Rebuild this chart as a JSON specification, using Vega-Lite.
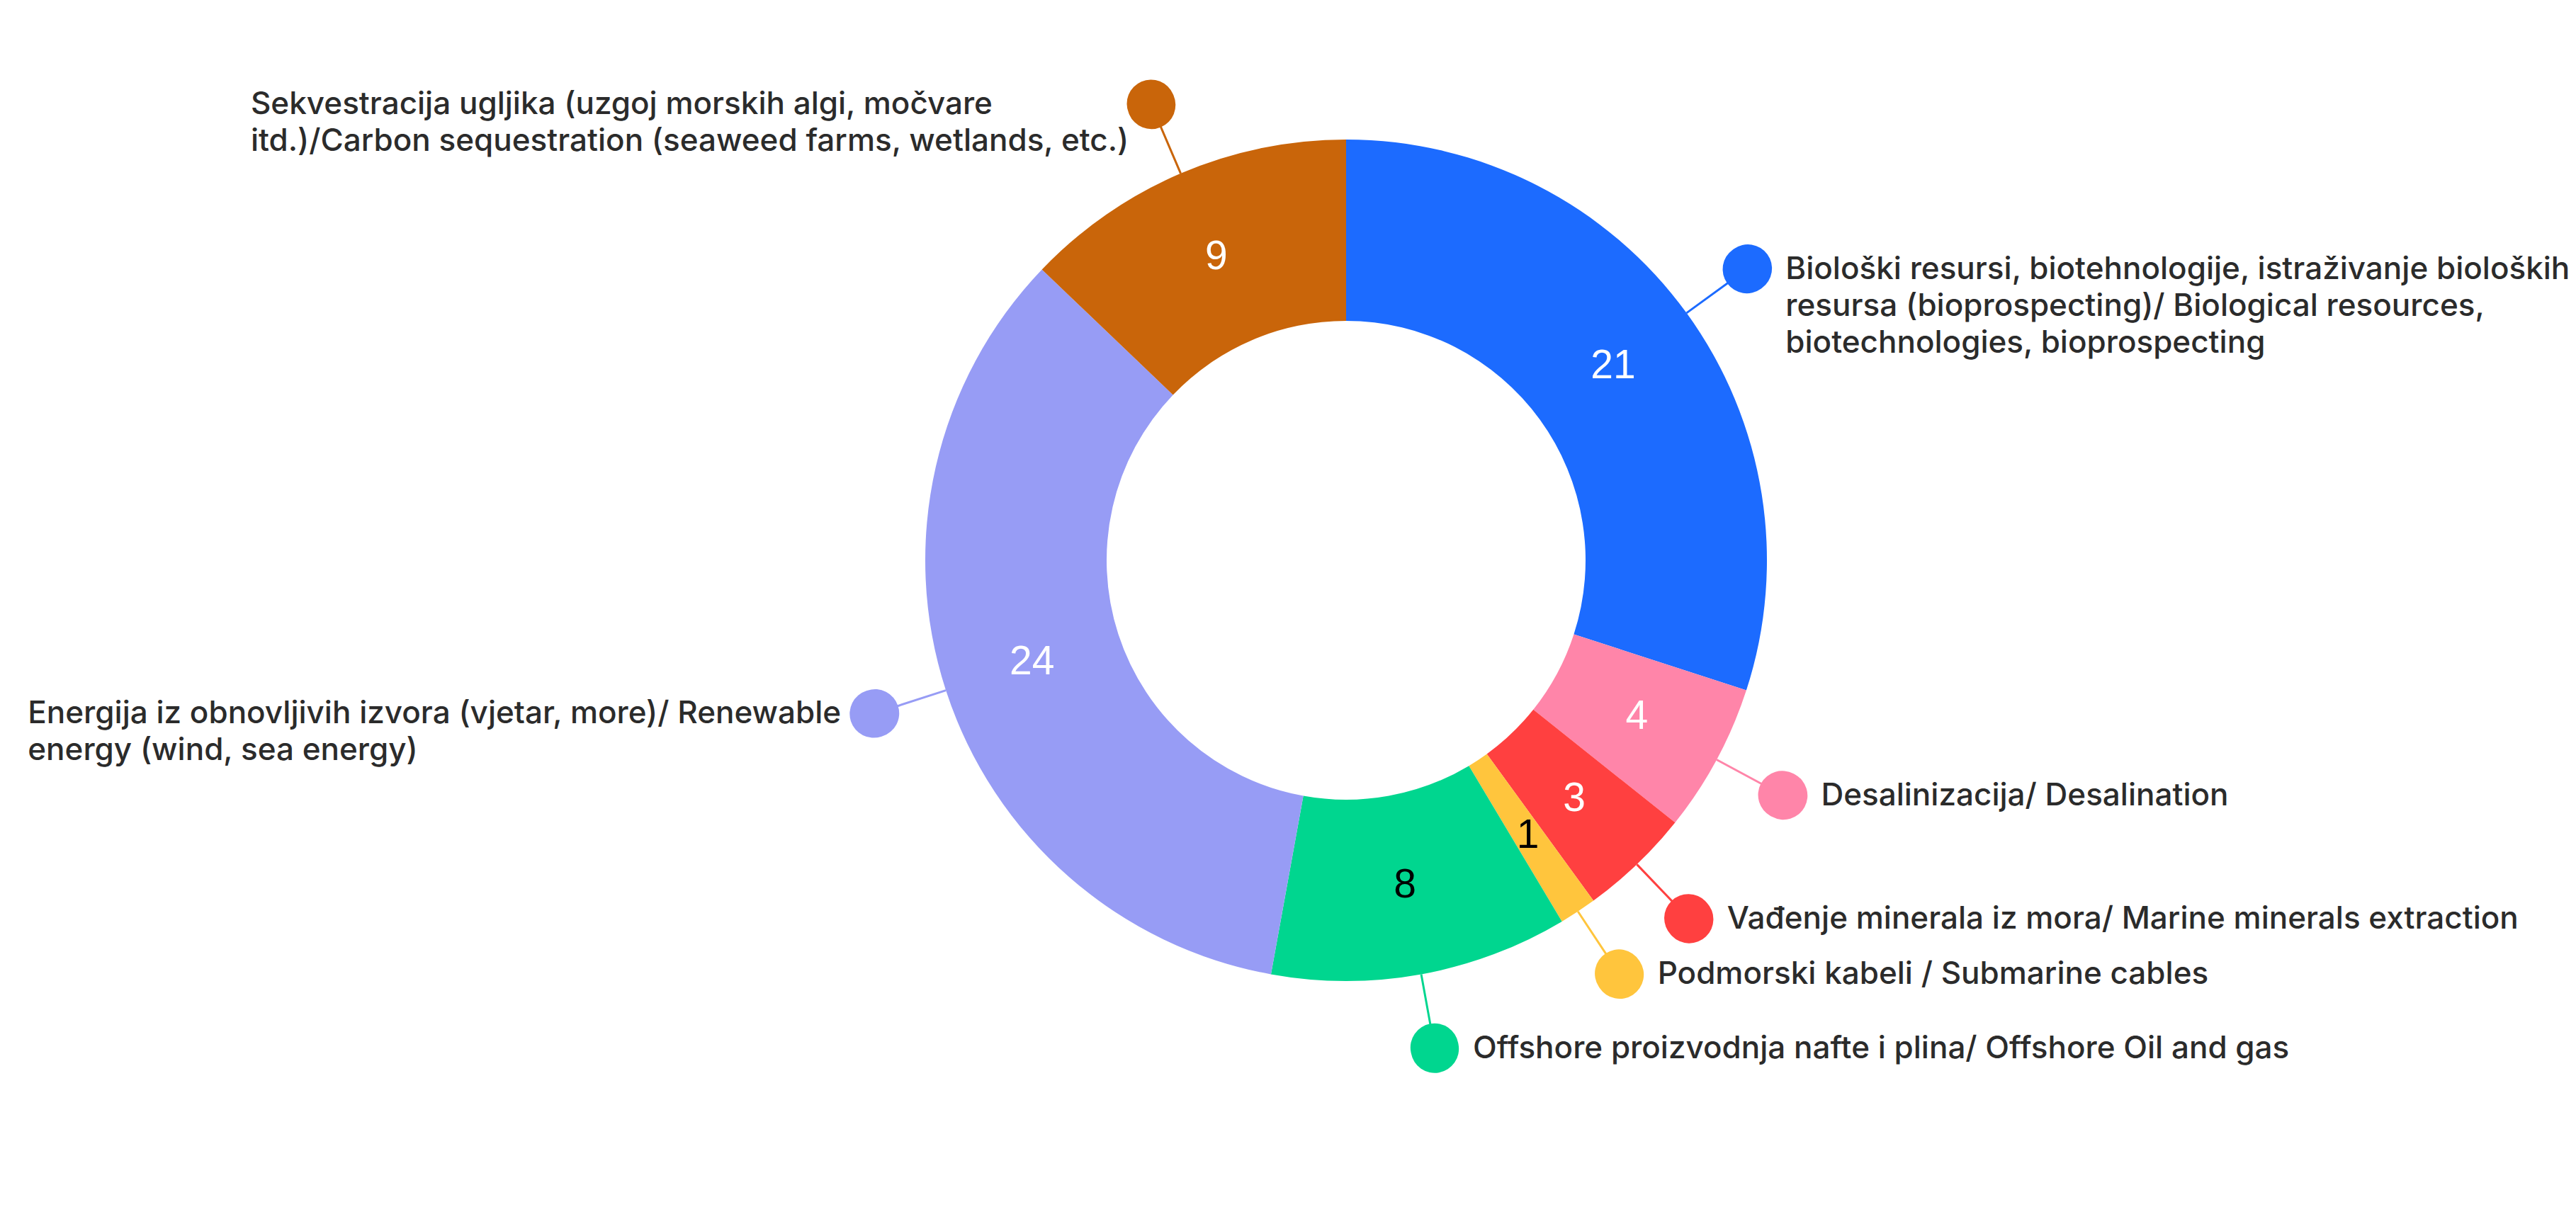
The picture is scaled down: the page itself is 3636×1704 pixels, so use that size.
{
  "$schema": "https://vega.github.io/schema/vega-lite/v6.json",
  "width": 3472,
  "height": 1582,
  "autosize": {"type": "none"},
  "padding": {"left": 164, "top": 0, "right": 0, "bottom": 122},
  "background": "white",
  "view": {"stroke": null},
  "data": {
    "values": [
      {"category": "bio", "value": 21, "label": "Biološki resursi, biotehnologije, istraživanje bioloških\nresursa (bioprospecting)/ Biological resources,\nbiotechnologies, bioprospecting"},
      {"category": "desal", "value": 4, "label": "Desalinizacija/ Desalination"},
      {"category": "vad", "value": 3, "label": "Vađenje minerala iz mora/ Marine minerals extraction"},
      {"category": "pod", "value": 1, "label": "Podmorski kabeli / Submarine cables"},
      {"category": "off", "value": 8, "label": "Offshore proizvodnja nafte i plina/ Offshore Oil and gas"},
      {"category": "energy", "value": 24, "label": "Energija iz obnovljivih izvora (vjetar, more)/ Renewable\nenergy (wind, sea energy)"},
      {"category": "seq", "value": 9, "label": "Sekvestracija ugljika (uzgoj morskih algi, močvare\nitd.)/Carbon sequestration (seaweed farms, wetlands, etc.)"}
    ]
  },
  "transform": [{"window": [{"op": "row_number", "as": "rn"}]}],
  "encoding": {
    "theta": {"field": "value", "type": "quantitative", "stack": true},
    "order": {"field": "rn", "type": "quantitative"},
    "color": {
      "field": "category",
      "type": "nominal",
      "scale": {
        "domain": ["bio", "desal", "vad", "pod", "off", "energy", "seq"],
        "range": ["#1c6bff", "#ff85a9", "#ff4040", "#ffc53d", "#00d68f", "#979cf5", "#c9650a"]
      },
      "legend": null
    }
  },
  "layer": [
    {"mark": {"type": "arc", "innerRadius": 338, "outerRadius": 594}},
    {"mark": {"type": "arc", "filled": false, "innerRadius": 594, "outerRadius": 700, "padAngle": 3.1416, "strokeWidth": 3}},
    {"mark": {"type": "arc", "filled": false, "innerRadius": 699, "outerRadius": 701, "padAngle": 3.1416, "strokeWidth": 68, "strokeJoin": "round"}},
    {
      "mark": {"type": "text", "radius": 466, "font": "Liberation Sans", "fontSize": 57, "baseline": "middle", "align": "center"},
      "encoding": {
        "text": {"field": "value", "type": "quantitative"},
        "detail": {"field": "category", "type": "nominal"},
        "color": {"condition": {"test": "datum.category === 'pod' || datum.category === 'off'", "value": "#000000"}, "value": "#ffffff"}
      }
    },
    {
      "mark": {"type": "text", "radius": 700, "font": "Inter", "fontSize": 44, "fontWeight": 500, "lineHeight": 52, "lineBreak": "\n", "align": "left", "baseline": "alphabetic", "dx": 54, "dy": 14},
      "encoding": {
        "text": {"condition": {"test": "indexof(['bio','desal','vad','pod','off'], datum.category) >= 0", "field": "label"}, "value": ""},
        "detail": {"field": "category", "type": "nominal"},
        "color": {"value": "#2b2b2b"}
      }
    },
    {
      "mark": {"type": "text", "radius": 700, "font": "Inter", "fontSize": 44, "fontWeight": 500, "lineHeight": 52, "lineBreak": "\n", "align": "left", "baseline": "alphabetic", "dx": -1195, "dy": 14},
      "encoding": {
        "text": {"condition": {"test": "datum.category === 'energy'", "field": "label"}, "value": ""},
        "detail": {"field": "category", "type": "nominal"},
        "color": {"value": "#2b2b2b"}
      }
    },
    {
      "mark": {"type": "text", "radius": 700, "font": "Inter", "fontSize": 44, "fontWeight": 500, "lineHeight": 52, "lineBreak": "\n", "align": "left", "baseline": "alphabetic", "dx": -1271, "dy": 14},
      "encoding": {
        "text": {"condition": {"test": "datum.category === 'seq'", "field": "label"}, "value": ""},
        "detail": {"field": "category", "type": "nominal"},
        "color": {"value": "#2b2b2b"}
      }
    }
  ]
}
